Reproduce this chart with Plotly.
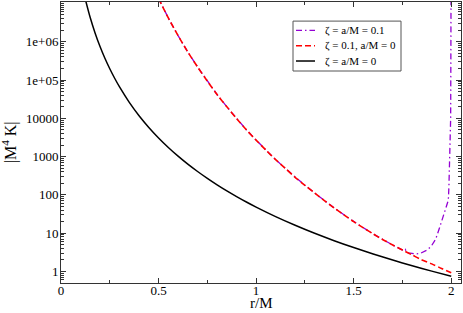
import plotly.graph_objects as go

# ---- data ----
r_black = [0.125, 0.15, 0.175, 0.2, 0.225, 0.25, 0.275, 0.3, 0.35, 0.4, 0.45, 0.5, 0.55, 0.6,
           0.65, 0.7, 0.75, 0.8, 0.85, 0.9, 0.95, 1.0, 1.1, 1.2, 1.3, 1.4, 1.5, 1.6, 1.7,
           1.8, 1.9, 2.0]
k_black = [1.26e7, 4.21e6, 1.671e6, 7.5e5, 3.70e5, 1.966e5, 1.11e5, 6.58e4, 2.61e4, 1.17e4,
           5780, 3072, 1734, 1029, 636, 408, 270, 183, 127, 90.3, 65.3, 48, 27.1, 16.1, 9.94,
           6.37, 4.21, 2.86, 1.99, 1.41, 1.02, 0.75]

r_red = [0.50, 0.55, 0.60, 0.65, 0.70, 0.75, 0.80, 0.85, 0.90, 0.95, 1.00, 1.05, 1.10, 1.15,
         1.20, 1.25, 1.30, 1.35, 1.40, 1.45, 1.50, 1.55, 1.60, 1.65, 1.70, 1.75, 1.80, 1.85,
         1.90, 1.95, 2.00]
k_red = [1.35e7, 4.17e6, 1.445e6, 5.37e5, 2.19e5, 9.33e4, 4.17e4, 2.0e4, 9770, 5010, 2690,
         1480, 832, 490, 288, 178, 112, 70.8, 45.7, 30.2, 20.0, 13.8, 9.55, 6.76, 4.90, 3.63,
         2.69, 2.0, 1.58, 1.20, 0.93]

r_purple = [0.50, 0.55, 0.60, 0.65, 0.70, 0.75, 0.80, 0.85, 0.90, 0.95, 1.00, 1.05, 1.10, 1.15,
            1.20, 1.25, 1.30, 1.35, 1.40, 1.45, 1.50, 1.55, 1.60, 1.65, 1.70, 1.74, 1.75,
            1.76, 1.765, 1.77, 1.78, 1.80, 1.82, 1.84, 1.86, 1.88, 1.90, 1.92, 1.94, 1.96,
            1.975, 1.985, 1.988, 1.990, 1.994, 1.997, 1.998, 1.999]
k_purple = [1.35e7, 4.17e6, 1.445e6, 5.37e5, 2.19e5, 9.33e4, 4.17e4, 2.0e4, 9770, 5010, 2690,
            1480, 832, 490, 288, 178, 112, 70.8, 45.7, 30.2, 20.0, 13.8, 9.55, 6.76, 4.90,
            3.85, 3.63, 3.50, 3.75, 3.20, 3.05, 2.95, 2.88, 2.95, 3.24, 3.72, 4.79, 6.92,
            13.8, 30.2, 52.5, 72.4, 158, 398, 1000, 1e4, 3.16e5, 3.16e7]

y_tickvals = [1, 10, 100, 1000, 10000, 1e5, 1e6]
y_ticktext = ["1", "10", "100", "1000", "10000", "1e+05", "1e+06"]
x_tickvals = [0, 0.5, 1, 1.5, 2]
x_ticktext = ["0", "0.5", "1", "1.5", "2"]

names = ["\u03b6 = a/M = 0.1", "\u03b6 = 0.1, a/M = 0", "\u03b6 = a/M = 0"]
colors = ["#9400D3", "#FF0000", "#000000"]
dashes = ["6px,3px,1.5px,3px", "6px,3px", "solid"]
widths = [1.3, 1.6, 1.5]
x_title = "r/M"
y_title = "|M<sup>4</sup> K|"

FONT = "Liberation Serif"
AX = "#333333"

fig = go.Figure()
fig.add_trace(go.Scatter(x=r_purple, y=k_purple, mode="lines", name=names[0],
                         line=dict(color=colors[0], width=widths[0], dash=dashes[0])))
fig.add_trace(go.Scatter(x=r_red, y=k_red, mode="lines", name=names[1],
                         line=dict(color=colors[1], width=widths[1], dash=dashes[1],
                                   shape="spline", smoothing=0.8)))
fig.add_trace(go.Scatter(x=r_black, y=k_black, mode="lines", name=names[2],
                         line=dict(color=colors[2], width=widths[2],
                                   shape="spline", smoothing=0.8)))

# hand-built legend (box, line samples, labels) in paper coordinates
shapes = [dict(type="rect", xref="paper", yref="paper", x0=0.58, x1=0.85, y0=0.7544, y1=0.932,
               line=dict(color="#555555", width=1), fillcolor="white", layer="above")]
annotations = []
row_y = [0.8989, 0.8445, 0.790]
for i in range(3):
    shapes.append(dict(type="line", xref="paper", yref="paper", x0=0.5875, x1=0.635,
                       y0=row_y[i], y1=row_y[i], layer="above",
                       line=dict(color=colors[i], width=widths[i], dash=dashes[i])))
    annotations.append(dict(text=names[i], xref="paper", yref="paper", x=0.654, y=row_y[i],
                            xanchor="left", yanchor="middle", showarrow=False,
                            font=dict(family=FONT, size=11)))
annotations += [
    dict(text=x_title, xref="paper", yref="paper", x=0.5, y=-0.0712,
         xanchor="center", yanchor="middle", showarrow=False, borderpad=0,
         font=dict(family=FONT, size=15)),
    dict(text=y_title, xref="paper", yref="paper", x=-0.128, y=0.5,
         xanchor="center", yanchor="middle", showarrow=False, textangle=-90, borderpad=0,
         font=dict(family=FONT, size=16)),
]

fig.update_layout(
    width=463, height=313,
    margin=dict(l=61, r=2, t=2, b=30),
    paper_bgcolor="white", plot_bgcolor="white",
    font=dict(family=FONT, size=13, color="black"),
    showlegend=False,
    shapes=shapes,
    annotations=annotations,
)
fig.update_xaxes(
    range=[0, 2.05], tickvals=x_tickvals, ticktext=x_ticktext, automargin=False,
    showline=True, linecolor=AX, linewidth=1, mirror="ticks",
    ticks="inside", ticklen=5, tickcolor=AX, showgrid=False, zeroline=False,
    minor=dict(ticks="inside", ticklen=3, dtick=0.25, tickcolor=AX, showgrid=False),
    tickfont=dict(family=FONT, size=13), ticklabelstandoff=-5,
)
fig.update_yaxes(
    type="log", range=[-0.301, 7.037], tickvals=y_tickvals, ticktext=y_ticktext,
    automargin=False,
    showline=True, linecolor=AX, linewidth=1, mirror="ticks",
    ticks="inside", ticklen=5, tickcolor=AX, showgrid=False, zeroline=False,
    minor=dict(ticks="inside", ticklen=3, dtick="D1", tickcolor=AX, showgrid=False),
    tickfont=dict(family=FONT, size=13), ticklabelstandoff=-1,
)

fig.write_html("out.html", config={"displayModeBar": False},
               post_script="document.body.style.margin='0';document.body.style.padding='0';")
